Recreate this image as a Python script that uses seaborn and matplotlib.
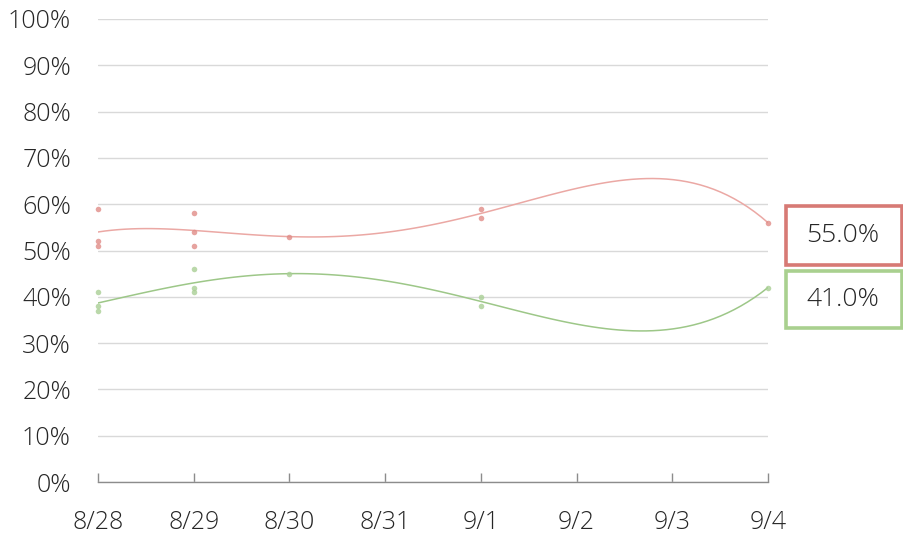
import numpy as np
import pandas as pd
import seaborn as sns
import matplotlib.pyplot as plt
from matplotlib.patches import Rectangle

# datos
red_dates = ['8/28', '8/28', '8/28', '8/29', '8/29', '8/29', '8/30', '9/1', '9/1', '9/4']
red_values = [59, 52, 51, 58, 54, 51, 53, 59, 57, 56]
green_dates = ['8/28', '8/28', '8/28', '8/29', '8/29', '8/29', '8/30', '9/1', '9/1', '9/4']
green_values = [41, 38, 37, 46, 42, 41, 45, 40, 38, 42]
tick_labels = ['8/28', '8/29', '8/30', '8/31', '9/1', '9/2', '9/3', '9/4']
y_ticks = list(range(0, 101, 10))

red_dot = '#e08c87'
red_line = '#eba8a4'
red_box = '#d77a75'
green_dot = '#a9cf95'
green_line = '#9dc788'
green_box = '#a9d08f'


def to_days(dates):
    d = pd.to_datetime(['2020/' + s for s in dates], format='%Y/%m/%d')
    return (d - pd.Timestamp('2020-08-28')).days.values


red_df = pd.DataFrame({'day': to_days(red_dates), 'pct': red_values})
green_df = pd.DataFrame({'day': to_days(green_dates), 'pct': green_values})

sns.set_theme(style='white')
plt.rcParams['font.family'] = ['Open Sans', 'DejaVu Sans']
plt.rcParams['font.weight'] = 'light'

fig = plt.figure(figsize=(9.04, 5.4), dpi=100)
ax = fig.add_axes([98 / 904, 1 - 482 / 540, 670 / 904, 463 / 540])

# tendencia polinomica de orden 4
for df, dot, line in [(red_df, red_dot, red_line), (green_df, green_dot, green_line)]:
    sns.regplot(data=df, x='day', y='pct', order=4, ci=None, ax=ax,
                scatter_kws={'s': 16, 'color': dot, 'clip_on': False, 'zorder': 4, 'linewidths': 0},
                line_kws={'color': line, 'lw': 1.1, 'zorder': 3})

ax.set_xlim(0, 7)
ax.set_ylim(0, 100)
ax.set_xticks(range(len(tick_labels)))
ax.set_xticklabels(tick_labels)
ax.set_yticks(y_ticks)
ax.set_yticklabels([f'{v}%' for v in y_ticks])
ax.set_xlabel('')
ax.set_ylabel('')

ax.grid(axis='y', color='#d9d9d9', lw=1)
ax.grid(axis='x', visible=False)
ax.set_axisbelow(True)
for s in ['top', 'right', 'left']:
    ax.spines[s].set_visible(False)
ax.spines['bottom'].set_color('#8c8c8c')
ax.spines['bottom'].set_linewidth(1)

ax.tick_params(axis='x', direction='in', length=6.5, width=1, color='#8c8c8c',
               pad=20, labelsize=18, labelcolor='#262626', bottom=True)
ax.tick_params(axis='y', length=0, pad=19.5, labelsize=18, labelcolor='#262626')

# cuadros con el promedio
red_mean = np.mean(red_values)
green_mean = np.mean(green_values)
boxes = [(red_mean, red_box, 206, 265), (green_mean, green_box, 271, 328)]
for val, col, top, bot in boxes:
    fig.patches.append(Rectangle((786 / 904, 1 - bot / 540), 116 / 904, (bot - top) / 540,
                                 transform=fig.transFigure, fill=False,
                                 edgecolor=col, lw=2.6))
    fig.text(843 / 904, 1 - (top + bot) / 2 / 540, f'{val:.1f}%', ha='center', va='center',
             fontsize=19, color='#262626')

fig.savefig('out.png', dpi=100)
